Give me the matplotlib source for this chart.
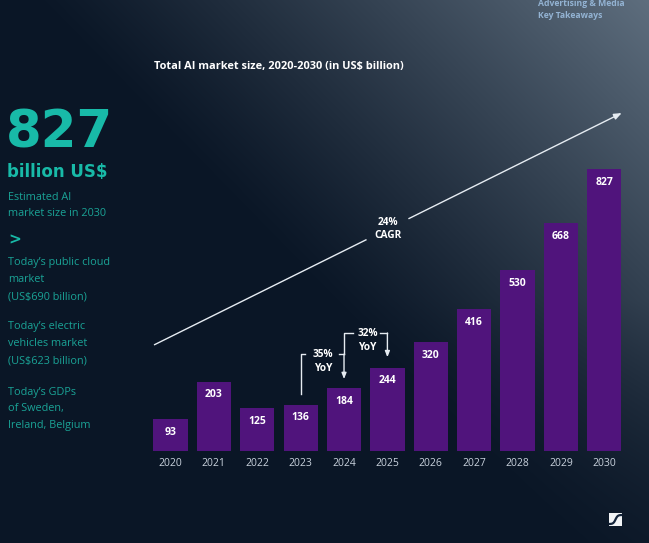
import numpy as np
import matplotlib
matplotlib.use("Agg")
import matplotlib.pyplot as plt
from matplotlib.patches import Rectangle

# ---------------- data ----------------
years = ["2020", "2021", "2022", "2023", "2024", "2025", "2026", "2027", "2028", "2029", "2030"]
values = [93, 203, 125, 136, 184, 244, 320, 416, 530, 668, 827]
title = "Total AI market size, 2020-2030 (in US$ billion)"
cagr_label = ["24%", "CAGR"]
yoy_labels = [["35%", "YoY"], ["32%", "YoY"]]
headline = "827"
headline_unit = "billion US$"
side_blocks = [
    ["Estimated AI", "market size in 2030"],
    ["Today\u2019s public cloud", "market", "(US$690 billion)"],
    ["Today\u2019s electric", "vehicles market", "(US$623 billion)"],
    ["Today\u2019s GDPs", "of Sweden,", "Ireland, Belgium"],
]
corner_lines = ["Advertising & Media", "Key Takeaways"]

W, H = 649, 543
fig = plt.figure(figsize=(W / 100, H / 100), dpi=100)

# ---------------- background gradient ----------------
bg = fig.add_axes([0, 0, 1, 1])
yy, xx = np.mgrid[0:H, 0:W].astype(float)
s = ((xx - 200) * 450 - yy * 440) / 629.0
t = np.clip((s + 120) / 450, 0, 1) ** 1.15
t = t * (1 - 0.6 * np.clip((yy - 300) / 243, 0, 1))
dark = np.array([10, 22, 38]) / 255
light = np.array([96, 112, 128]) / 255
img = dark[None, None, :] + t[..., None] * (light - dark)[None, None, :]
bg.imshow(img, extent=[0, W, H, 0], aspect="auto", interpolation="bilinear")
bg.set_xlim(0, W)
bg.set_ylim(H, 0)
bg.axis("off")

def fx(px):
    return px / W

def fy(py):
    return 1 - py / H

# ---------------- chart ----------------
px_per_unit = 0.341
x0_px = 148.8
x1_px = 626.0
base_px = 451
ymax = 1050
ax = fig.add_axes([fx(x0_px), fy(base_px), (x1_px - x0_px) / W, ymax * px_per_unit / H])
ax.patch.set_alpha(0)
for sp in ax.spines.values():
    sp.set_visible(False)
ax.set_xlim(-0.5, 10.5)
ax.set_ylim(0, ymax)
ax.set_yticks([])

x = np.arange(len(years))
ax.bar(x, values, width=0.79, color="#50147c", zorder=2)
ax.set_xticks(x)
ax.set_xticklabels(years, fontsize=7.5, color="#c9d2dd", family="Open Sans")
ax.tick_params(axis="x", length=0, pad=5)

for xi, val in zip(x, values):
    ax.annotate(str(val), (xi, val), xytext=(0, -9.5), textcoords="offset points",
                ha="center", va="center", fontsize=7.5, fontweight="bold",
                color="white", family="Open Sans", zorder=3)

line_col = "#e6ecf2"
# CAGR arrow with gap for label
p0 = np.array([-0.38, 311.0])
p1 = np.array([10.40, 991.0])
g0, g1 = 0.4545, 0.5449
a = p0 + (p1 - p0) * g0
b = p0 + (p1 - p0) * g1
m = p0 + (p1 - p0) * 0.5
ax.plot([p0[0], a[0]], [p0[1], a[1]], color=line_col, lw=1.0, solid_capstyle="butt")
ax.annotate("", xy=tuple(p1), xytext=tuple(b),
            arrowprops=dict(arrowstyle="-|>,head_length=0.45,head_width=0.18",
                            color=line_col, lw=1.0, shrinkA=0, shrinkB=0))
ax.text(m[0], m[1] + 19, cagr_label[0], ha="center", va="center", fontsize=7.3,
        fontweight="bold", color="white", family="Open Sans")
ax.text(m[0], m[1] - 20, cagr_label[1], ha="center", va="center", fontsize=7.3,
        fontweight="bold", color="white", family="Open Sans")

# YoY brackets
def bracket(xa, xb, ystart, ytop, yend, tl, tr, tx, labels):
    ax.plot([xa, xa, tl], [ystart, ytop, ytop], color=line_col, lw=1.0)
    ax.plot([tr, xb], [ytop, ytop], color=line_col, lw=1.0)
    ax.annotate("", xy=(xb, yend), xytext=(xb, ytop),
                arrowprops=dict(arrowstyle="-|>,head_length=0.35,head_width=0.14",
                                color=line_col, lw=1.0, shrinkA=0, shrinkB=0))
    ax.text(tx, ytop - 2, labels[0], ha="center", va="center", fontsize=7.3,
            fontweight="bold", color="white", family="Open Sans")
    ax.text(tx, ytop - 43, labels[1], ha="center", va="center", fontsize=7.3,
            fontweight="bold", color="white", family="Open Sans")

bracket(3, 4, 167, 284, 211, 3.1, 3.875, 3.51, yoy_labels[0])
bracket(4, 5, 284, 346, 275, 4.21, 4.84, 4.54, yoy_labels[1])

# ---------------- texts ----------------
fig.text(fx(154), fy(66), title, ha="left", va="center", fontsize=7.9,
         fontweight="bold", color="white", family="Open Sans")

teal_big = "#18baa8"
teal = "#1aa396"
fig.text(fx(6), fy(133), headline, ha="left", va="center", fontsize=37,
         fontweight="bold", color=teal_big, family="DejaVu Sans")
fig.text(fx(7), fy(172), headline_unit, ha="left", va="center", fontsize=12,
         fontweight="bold", color=teal_big, family="DejaVu Sans")

block_tops = [197, 263, 327, 392]
for top, lines in zip(block_tops, side_blocks):
    for i, ln in enumerate(lines):
        fig.text(fx(8), fy(top + i * 16.8), ln, ha="left", va="center",
                 fontsize=7.8, color=teal, family="Open Sans")
fig.text(fx(8), fy(240), ">", ha="left", va="center", fontsize=11,
         fontweight="bold", color=teal_big, family="DejaVu Sans")

corner_col = "#93b3d3"
fig.text(fx(538), fy(4), corner_lines[0], ha="left", va="center", fontsize=6.2,
         fontweight="bold", color=corner_col, family="Open Sans")
fig.text(fx(538), fy(16), corner_lines[1], ha="left", va="center", fontsize=6.2,
         fontweight="bold", color=corner_col, family="Open Sans")

# logo
bg.add_patch(Rectangle((609, 513), 13, 13, facecolor="#f2f4f6", edgecolor="none"))
sx = np.linspace(610, 621, 30)
sy = 519.5 - 4.5 * np.tanh((sx - 615.5) / 2.2)
bg.plot(sx, sy, color="#14243a", lw=1.6)

fig.savefig("out.png", dpi=100)
